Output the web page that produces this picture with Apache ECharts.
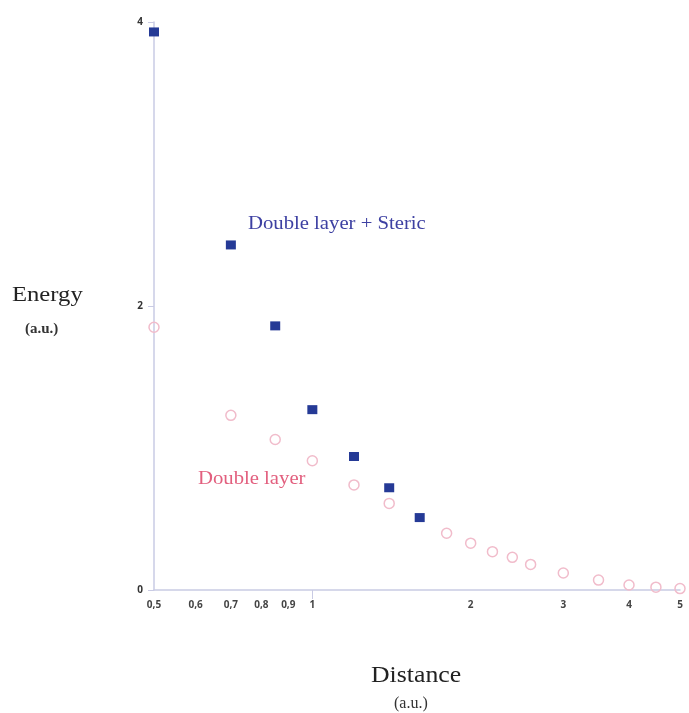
<!DOCTYPE html>
<html>
<head>
<meta charset="utf-8">
<script src="https://cdn.jsdelivr.net/npm/echarts@6/dist/echarts.min.js"></script>
<style>
  html, body { margin: 0; padding: 0; background: #fff; }
  #chart { width: 689px; height: 713px; }
</style>
</head>
<body>
<div id="chart"></div>
<script>
// distance ticks (log axis) and energy ticks
const xTicks = [0.5, 0.6, 0.7, 0.8, 0.9, 1, 2, 3, 4, 5];
const yTicks = [0, 2, 4];

// Double layer + Steric (filled squares)
const stericX = [0.5, 0.7, 0.85, 1.0, 1.2, 1.4, 1.6];
const stericY = [3.93, 2.43, 1.86, 1.27, 0.94, 0.72, 0.51];

// Double layer only (open circles)
const dlX = [0.5, 0.7, 0.85, 1.0, 1.2, 1.4, 1.8, 2.0, 2.2, 2.4, 2.6, 3.0, 3.5, 4.0, 4.5, 5.0];
const dlY = [1.85, 1.23, 1.06, 0.91, 0.74, 0.61, 0.40, 0.33, 0.27, 0.23, 0.18, 0.12, 0.07, 0.035, 0.02, 0.01];

const pairs = (xs, ys) => xs.map((x, i) => [x, ys[i]]);

const axisColor = '#c9cbe4';
const serif = '"Liberation Serif", "DejaVu Serif", serif';

let myChart = echarts.init(document.getElementById('chart'));
myChart.setOption({
  animation: false,
  backgroundColor: '#fff',
  grid: { left: 154, right: 9, top: 22, bottom: 123, containLabel: false },
  xAxis: {
    type: 'log',
    logBase: 10,
    min: 0.5,
    max: 5,
    splitLine: { show: false },
    axisLine: { lineStyle: { color: axisColor, width: 1.5 } },
    axisTick: { show: true, customValues: [1], length: 9, lineStyle: { color: axisColor } },
    minorTick: { show: false },
    axisLabel: {
      customValues: xTicks,
      color: '#444',
      fontSize: 10,
      fontWeight: 'bold',
      fontFamily: 'Open Sans, sans-serif',
      margin: 10,
      formatter: v => String(+(+v).toFixed(2)).replace('.', ',')
    }
  },
  yAxis: {
    type: 'value',
    min: 0,
    max: 4,
    interval: 2,
    splitLine: { show: false },
    axisLine: { show: true, lineStyle: { color: axisColor, width: 1.5 } },
    axisTick: { show: true, length: 6, lineStyle: { color: axisColor } },
    axisLabel: {
      customValues: yTicks,
      color: '#333',
      fontSize: 10,
      fontWeight: 'bold',
      fontFamily: 'Open Sans, sans-serif',
      margin: 11
    }
  },
  series: [
    {
      name: 'Double layer',
      type: 'scatter',
      data: pairs(dlX, dlY),
      symbol: 'circle',
      symbolSize: 10,
      itemStyle: { color: 'rgba(255,255,255,0)', borderColor: '#f1bccb', borderWidth: 1.5, opacity: 1 },
      z: 2
    },
    {
      name: 'Double layer + Steric',
      type: 'scatter',
      data: pairs(stericX, stericY),
      symbol: 'rect',
      symbolSize: [10, 9],
      itemStyle: { color: '#253a96', opacity: 1 },
      z: 3
    }
  ],
  graphic: [
    { type: 'text', left: 248, top: 215, scaleX: 1.15, style: { text: 'Double layer + Steric', font: '18px ' + serif, fill: '#3d40a2' } },
    { type: 'text', left: 198, top: 470, scaleX: 1.15, style: { text: 'Double layer', font: '18px ' + serif, fill: '#e25f7e' } },
    { type: 'text', left: 12, top: 284, scaleX: 1.12, style: { text: 'Energy', font: '22px ' + serif, fill: '#222' } },
    { type: 'text', left: 25, top: 322, style: { text: '(a.u.)', font: 'bold 15px ' + serif, fill: '#333' } },
    { type: 'text', left: 371, top: 664, scaleX: 1.12, style: { text: 'Distance', font: '23px ' + serif, fill: '#222' } },
    { type: 'text', left: 394, top: 696, style: { text: '(a.u.)', font: '16px ' + serif, fill: '#333' } }
  ]
});
window.addEventListener('resize', function () {
  myChart.resize();
});
</script>
</body>
</html>
